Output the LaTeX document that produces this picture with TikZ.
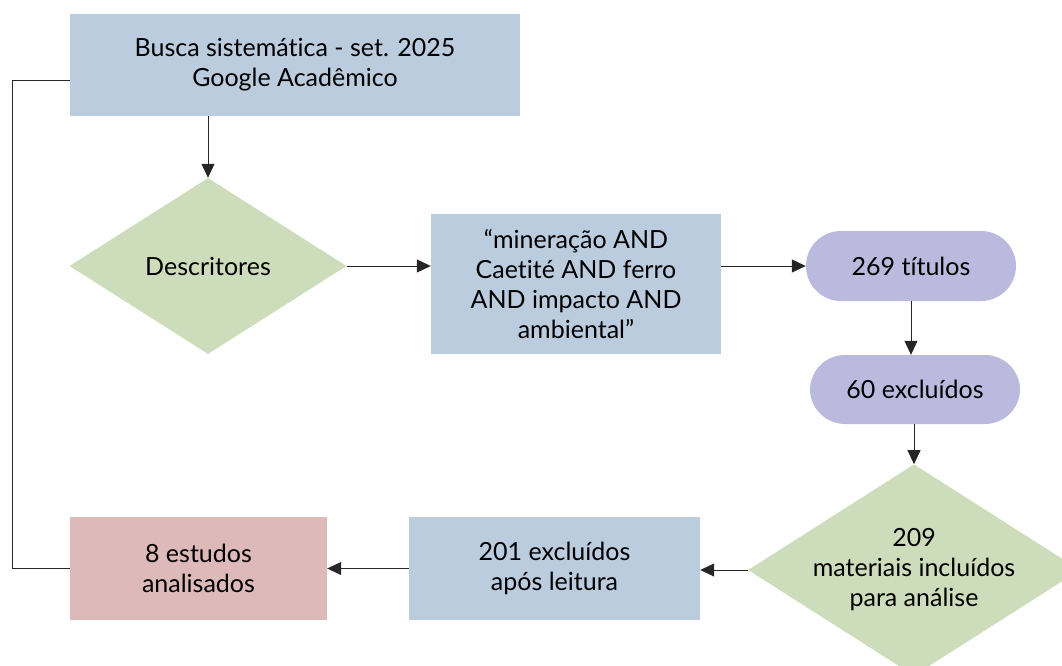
\documentclass[tikz,border=0pt]{standalone}
\usepackage{fontspec}
\setmainfont{Lato}[Ligatures=CommonOff]
\usetikzlibrary{shapes.geometric,arrows.meta}
\definecolor{cblue}{HTML}{BBCCDF}
\definecolor{cgreen}{HTML}{CDDCBA}
\definecolor{cviolet}{HTML}{BBB9DD}
\definecolor{cpink}{HTML}{DDB9B9}
\tikzset{
  txt/.style={font=\fontsize{25}{30}\selectfont},
  rbox/.style={rectangle, inner sep=0pt, align=center, txt},
  dbox/.style={diamond, inner sep=0pt, aspect=1.57, align=center, fill=cgreen, txt},
  pill/.style={rectangle, rounded corners=35pt, inner sep=0pt, fill=cviolet, align=center, txt},
  conn/.style={draw=black!85, line width=1pt},
  arr/.style={conn, -{Triangle[length=14pt,width=13pt]}},
}
\begin{document}
\begin{tikzpicture}[x=1pt,y=-1pt]
\useasboundingbox (0,0) rectangle (1062,666);
\begin{scope}
\clip (0,0) rectangle (1062,666);
\node[rbox, fill=cblue, minimum width=450pt, minimum height=102pt] (busca) at (295,65) {Busca sistemática - set. 2025\\Google Acadêmico};
\node[dbox, minimum width=277pt, minimum height=176pt] (desc) at (208,266) {Descritores};
\node[rbox, fill=cblue, minimum width=290pt, minimum height=140pt] (query) at (576,284) {“mineração AND\\Caetité AND ferro\\AND impacto AND\\ambiental\symbol{34}};
\node[pill, minimum width=210pt, minimum height=70pt] (t269) at (911,266) {269 títulos};
\node[pill, minimum width=210pt, minimum height=69pt] (e60) at (915,389.5) {60 excluídos};
\node[dbox, minimum width=324pt, minimum height=206pt] (m209) at (914,570) {209\\materiais incluídos\\para análise};
\node[rbox, fill=cblue, minimum width=291pt, minimum height=103pt] (e201) at (554.5,568.5) {201 excluídos\\após leitura};
\node[rbox, fill=cpink, minimum width=257pt, minimum height=103pt] (est8) at (198.5,568.5) {8 estudos\\analisados};
\coordinate (c1) at (12,81);
\coordinate (c2) at (12,568);
\draw[arr] (busca.south -| desc.north) -- (desc.north);
\draw[arr] (desc.east) -- (query.west |- desc.east);
\draw[arr] (query.east |- t269.west) -- (t269.west);
\draw[arr] (t269.south) -- (t269.south |- e60.north);
\draw[arr] (e60.south -| m209.north) -- (m209.north);
\draw[arr] (m209.west) -- (e201.east |- m209.west);
\draw[arr] (e201.west |- est8.east) -- (est8.east);
\draw[conn] (est8.west |- c2) -- (c2) -- (c1) -- (busca.west |- c1);
\end{scope}
\end{tikzpicture}
\end{document}
